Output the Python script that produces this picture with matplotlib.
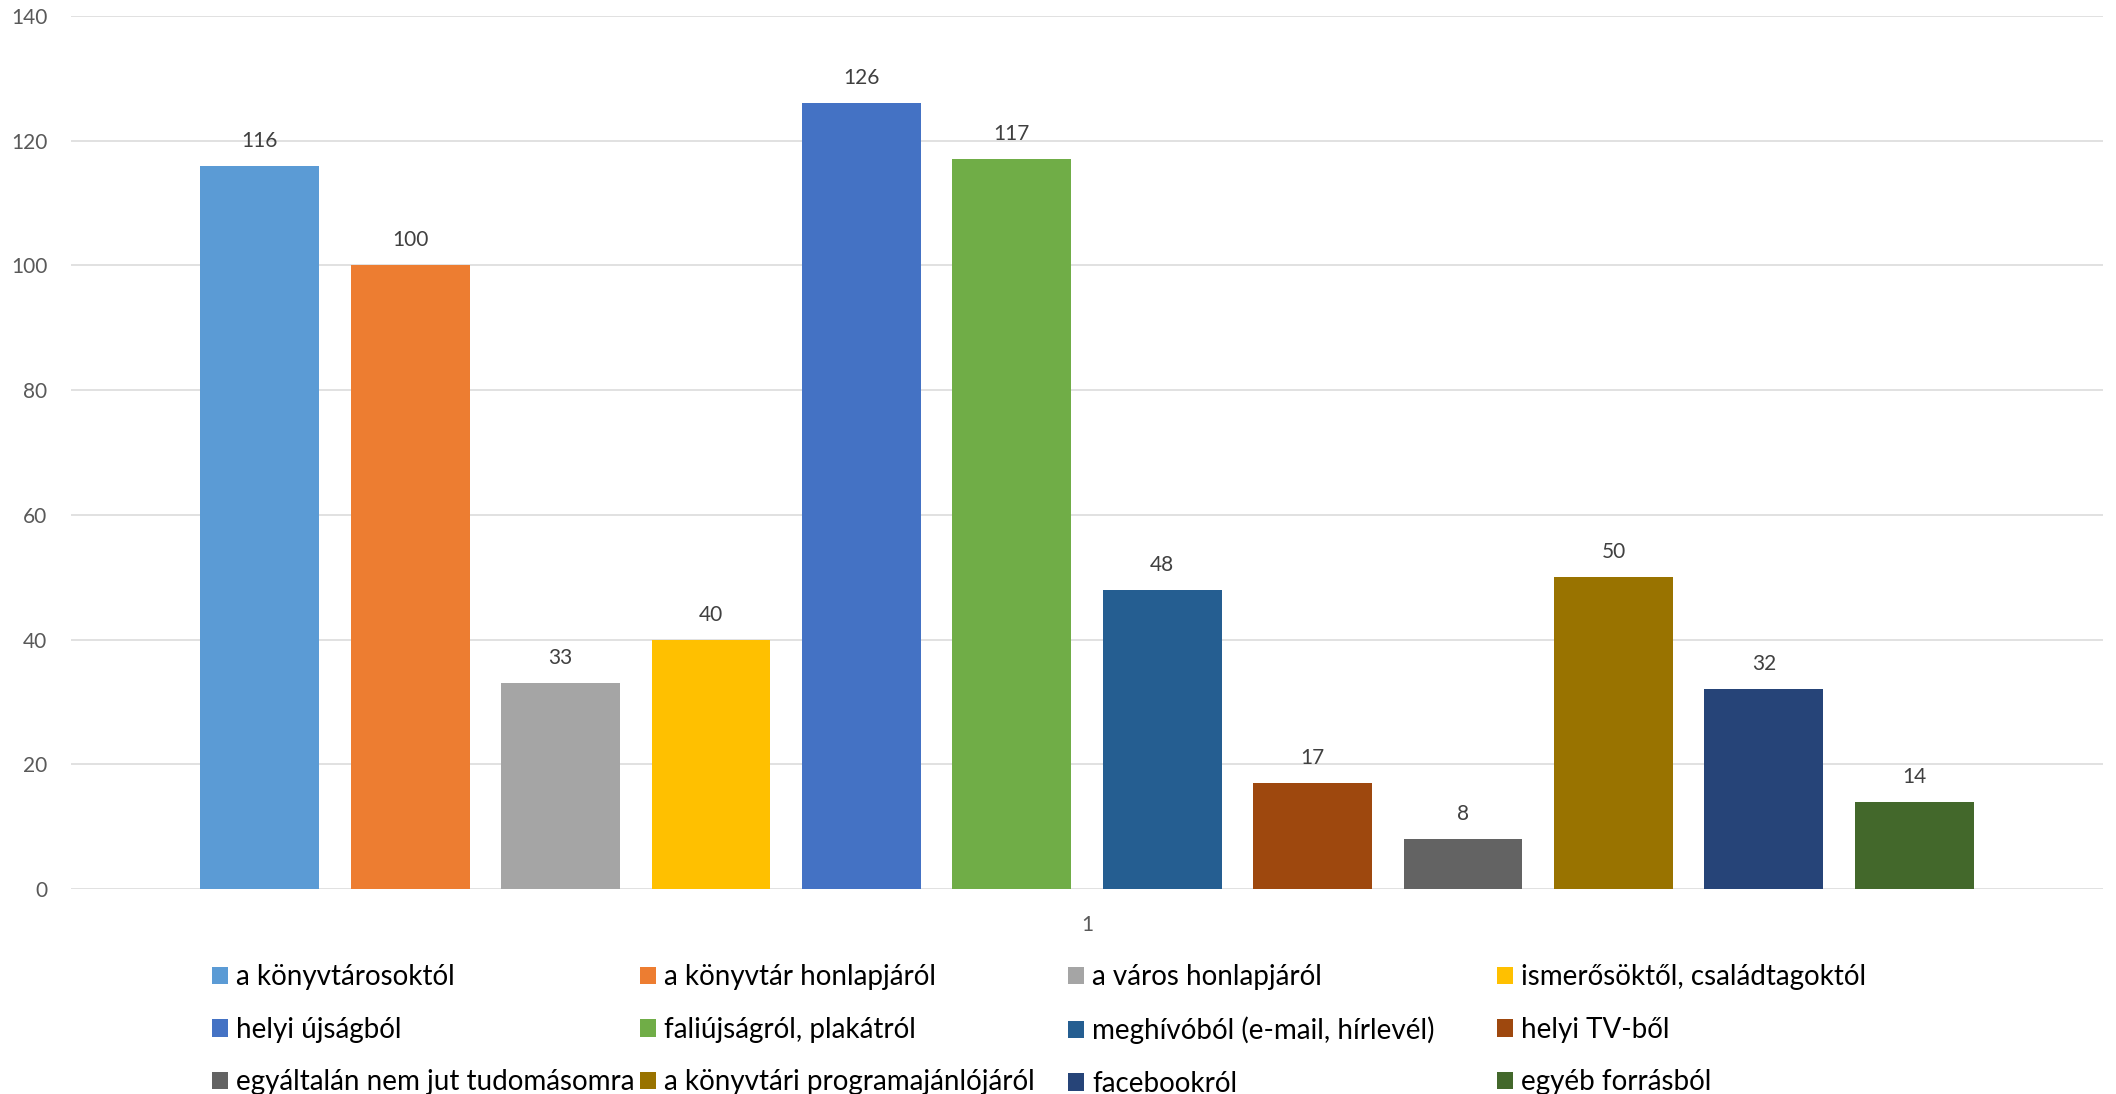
import numpy as np
import matplotlib.pyplot as plt

plt.rcParams['font.family'] = ['Lato', 'DejaVu Sans']

# legend / series names and values
labels = ['a könyvtárosoktól', 'a könyvtár honlapjáról', 'a város honlapjáról',
          'ismerősöktől, családtagoktól', 'helyi újságból', 'faliújságról, plakátról',
          'meghívóból (e-mail, hírlevél)', 'helyi TV-ből', 'egyáltalán nem jut tudomásomra',
          'a könyvtári programajánlójáról', 'facebookról', 'egyéb forrásból']
values = [116, 100, 33, 40, 126, 117, 48, 17, 8, 50, 32, 14]
colors = ['#5B9BD5', '#ED7D31', '#A5A5A5', '#FFC000', '#4472C4', '#70AD47',
          '#255E91', '#9E480E', '#636363', '#997300', '#264478', '#43682B']
category = '1'

W, H = 2116, 1094
fig = plt.figure(figsize=(W / 100, H / 100), dpi=100)
ax = fig.add_axes([71 / W, 1 - 889 / H, (2103 - 71) / W, (889 - 16) / H])

n = len(values)
xpos = np.arange(n) - (n - 1) / 2
bars = ax.bar(xpos, values, width=0.79, color=colors, label=labels, zorder=2)

for x, v in zip(xpos, values):
    ax.text(x, v + 2.4, str(v), ha='center', va='bottom', fontsize=15, color='#404040')

ax.set_xlim(-6.755, 6.755)
ax.set_ylim(0, 140)
ax.set_yticks(range(0, 141, 20))
ax.set_xticks([0])
ax.set_xticklabels([category])
ax.tick_params(axis='both', length=0, labelsize=15, labelcolor='#595959')
ax.tick_params(axis='y', pad=17)
ax.tick_params(axis='x', pad=19)
ax.grid(axis='y', color='#D9D9D9', linewidth=1.1, zorder=0)
for s in ax.spines.values():
    s.set_visible(False)

# legend: 4 uniform columns, filled row-wise like Excel
col_x = [240, 668, 1096, 1525]
handles = list(bars)
for c in range(4):
    leg = fig.legend(handles[c::4], labels[c::4], loc='upper left',
                     bbox_to_anchor=((col_x[c] - 28) / W, 1 - 964 / H),
                     frameon=False, fontsize=20, handlelength=0.58, handleheight=0.58,
                     handletextpad=0.3, labelspacing=0.96, borderpad=0, borderaxespad=0)
    for t in leg.get_texts():
        t.set_color('#000000')

fig.savefig('out.png', dpi=100)
